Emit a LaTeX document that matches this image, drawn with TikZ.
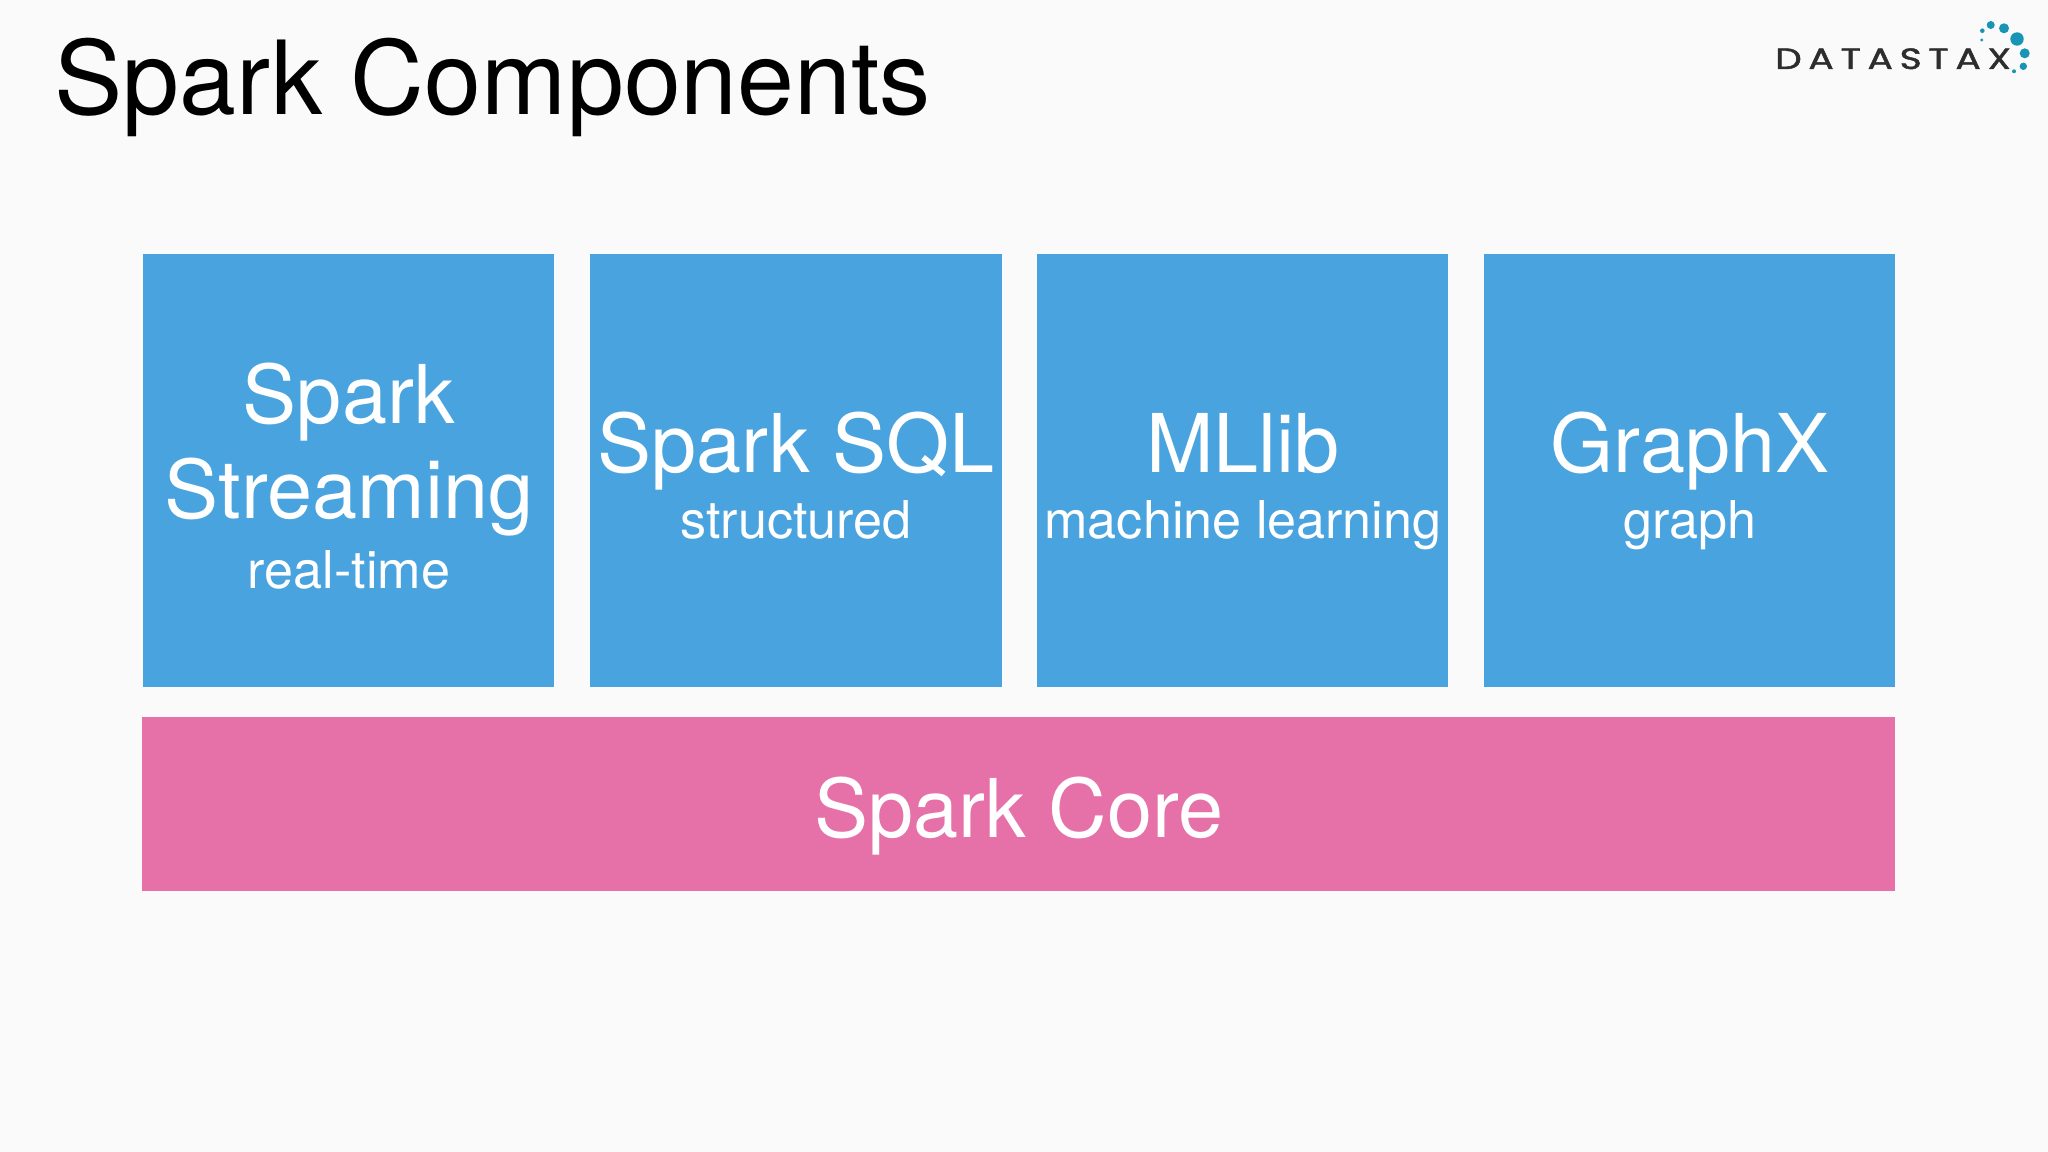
\documentclass[tikz,border=0pt]{standalone}
\usepackage{fontspec}
\setmainfont{TeX Gyre Heros}
\newfontfamily\logofont[LetterSpace=18,FakeBold=1.5]{Poppins}
\definecolor{bgc}{RGB}{250,250,250}
\definecolor{bluebox}{RGB}{73,163,222}
\definecolor{pinkbox}{RGB}{230,112,168}
\definecolor{tealdot}{RGB}{24,149,180}
\definecolor{logoink}{RGB}{45,45,45}
\tikzset{
  box/.style={rectangle,draw=none,fill=bluebox,inner sep=0pt,minimum width=308.5pt,minimum height=325pt},
  core/.style={rectangle,draw=none,fill=pinkbox,inner sep=0pt,minimum width=1315pt,minimum height=130.5pt},
  big/.style={anchor=base,inner sep=0pt,text=white,font=\fontsize{60.8}{60.8}\selectfont},
  small/.style={anchor=base,inner sep=0pt,text=white,font=\fontsize{39.1}{39.1}\selectfont},
  title/.style={anchor=base west,inner sep=0pt,text=black,font=\fontsize{76.7}{76.7}\selectfont},
  logo/.style={anchor=base,inner sep=0pt,text=logoink,xscale=1.28,transform shape,font=\logofont\fontsize{22}{22}\selectfont},
  dot/.style={fill=tealdot,draw=none}
}
\begin{document}
\begin{tikzpicture}[x=0.75pt,y=-0.75pt]
\useasboundingbox (0,0) rectangle (2048,1152);
\fill[bgc] (0,0) rectangle (2048,1152);
\node[title] (t) at (54.5,115) {Spark Components};
\node[box] (b1) at (348.5,470.5) {};
\node[box] (b2) at (796,470.5) {};
\node[box] (b3) at (1242.5,470.5) {};
\node[box] (b4) at (1689.5,470.5) {};
\node[core] (c) at (1018.5,804) {};
\node[big] (b1a) at (349,423) {Spark};
\node[big] (b1b) at (349,518) {Streaming};
\node[small] (b1c) at (349,588) {real-time};
\node[big] (b2a) at (796,472) {Spark SQL};
\node[small] (b2b) at (796,538) {structured};
\node[big] (b3a) at (1243,472) {MLlib};
\node[small] (b3b) at (1243,538) {machine learning};
\node[big] (b4a) at (1690,472) {GraphX};
\node[small] (b4b) at (1690,538) {graph};
\node[big] (cl) at (1019,837) {Spark Core};
\node[logo] (lg) at (1893,69) {DATASTAX};
\foreach \cx/\cy/\r in {1990.7/25/4,2004/28.3/5,2017/39/6.7,2024.7/53.3/5,2023.3/66.3/3.7,2014/71.3/2,1982.3/30.7/2.3,1981.7/40/1.7}
  \fill[dot] (\cx,\cy) circle[radius=\r*0.75pt];
\end{tikzpicture}
\end{document}
